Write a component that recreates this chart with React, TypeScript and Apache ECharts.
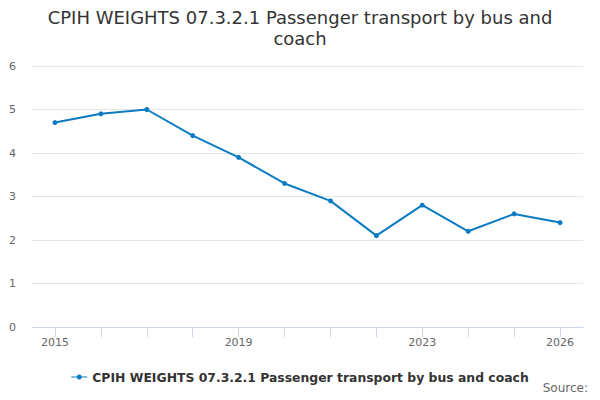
import React, { useEffect, useRef } from "react";
import * as echarts from "echarts";

const years = ["2015", "2016", "2017", "2018", "2019", "2020", "2021", "2022", "2023", "2024", "2025", "2026"];
const weights = [4.7, 4.9, 5.0, 4.4, 3.9, 3.3, 2.9, 2.1, 2.8, 2.2, 2.6, 2.4];
const shownLabels = ["2015", "2019", "2023", "2026"];
const seriesName = "CPIH WEIGHTS 07.3.2.1 Passenger transport by bus and coach";
const titleText = "CPIH WEIGHTS 07.3.2.1 Passenger transport by bus and\ncoach";

const FONT = "DejaVu Sans";

export default function App() {
  const ref = useRef<HTMLDivElement>(null);
  useEffect(() => {
    if (!ref.current) return;
    const chart = echarts.init(ref.current, null, { renderer: "svg" });
    chart.setOption({
      animation: false,
      backgroundColor: "#ffffff",
      textStyle: { fontFamily: FONT },
      title: {
        text: titleText,
        left: "center",
        top: 2,
        textStyle: { fontFamily: FONT, fontSize: 18, fontWeight: "normal", color: "#333333", lineHeight: 21 },
      },
      legend: {
        top: 366,
        left: "center",
        itemWidth: 16,
        itemHeight: 8,
        itemGap: 10,
        icon: "path://M0,3.5 L16,3.5 L16,4.5 L0,4.5 Z M8,1.5 A2.5,2.5 0 1 1 7.99,1.5 Z",
        textStyle: { fontFamily: FONT, fontSize: 12.4, fontWeight: "bold", color: "#333333" },
        data: [seriesName],
      },
      graphic: [
        {
          type: "text",
          right: 12,
          top: 382,
          style: { text: "Source:", fontFamily: FONT, fontSize: 12, fill: "#666666" },
        },
      ],
      grid: { left: 32, right: 17, top: 66, bottom: 73, containLabel: false },
      xAxis: {
        type: "category",
        data: years,
        boundaryGap: true,
        axisLine: { lineStyle: { color: "#ccd6eb" } },
        axisTick: { show: true, alignWithLabel: true, interval: 0, length: 10, lineStyle: { color: "#ccd6eb" } },
        axisLabel: {
          interval: (_i: number, v: string) => shownLabels.includes(v),
          color: "#666666",
          fontSize: 11,
          fontFamily: FONT,
          margin: 10,
        },
      },
      yAxis: {
        type: "value",
        min: 0,
        max: 6,
        interval: 1,
        axisLine: { show: false },
        axisTick: { show: false },
        axisLabel: { color: "#666666", fontSize: 11, fontFamily: FONT, margin: 16 },
        splitLine: { lineStyle: { color: "#e6e6e6" } },
      },
      series: [
        {
          name: seriesName,
          type: "line",
          data: weights,
          color: "#0a7bc2",
          lineStyle: { width: 2, color: "#0a7bc2" },
          symbol: "circle",
          symbolSize: 5,
          itemStyle: { color: "#0a7bc2" },
        },
      ],
    });
    return () => chart.dispose();
  }, []);
  return (
    <div
      ref={ref}
      style={{ position: "absolute", left: 0, top: 0, width: 600, height: 400 }}
    />
  );
}
